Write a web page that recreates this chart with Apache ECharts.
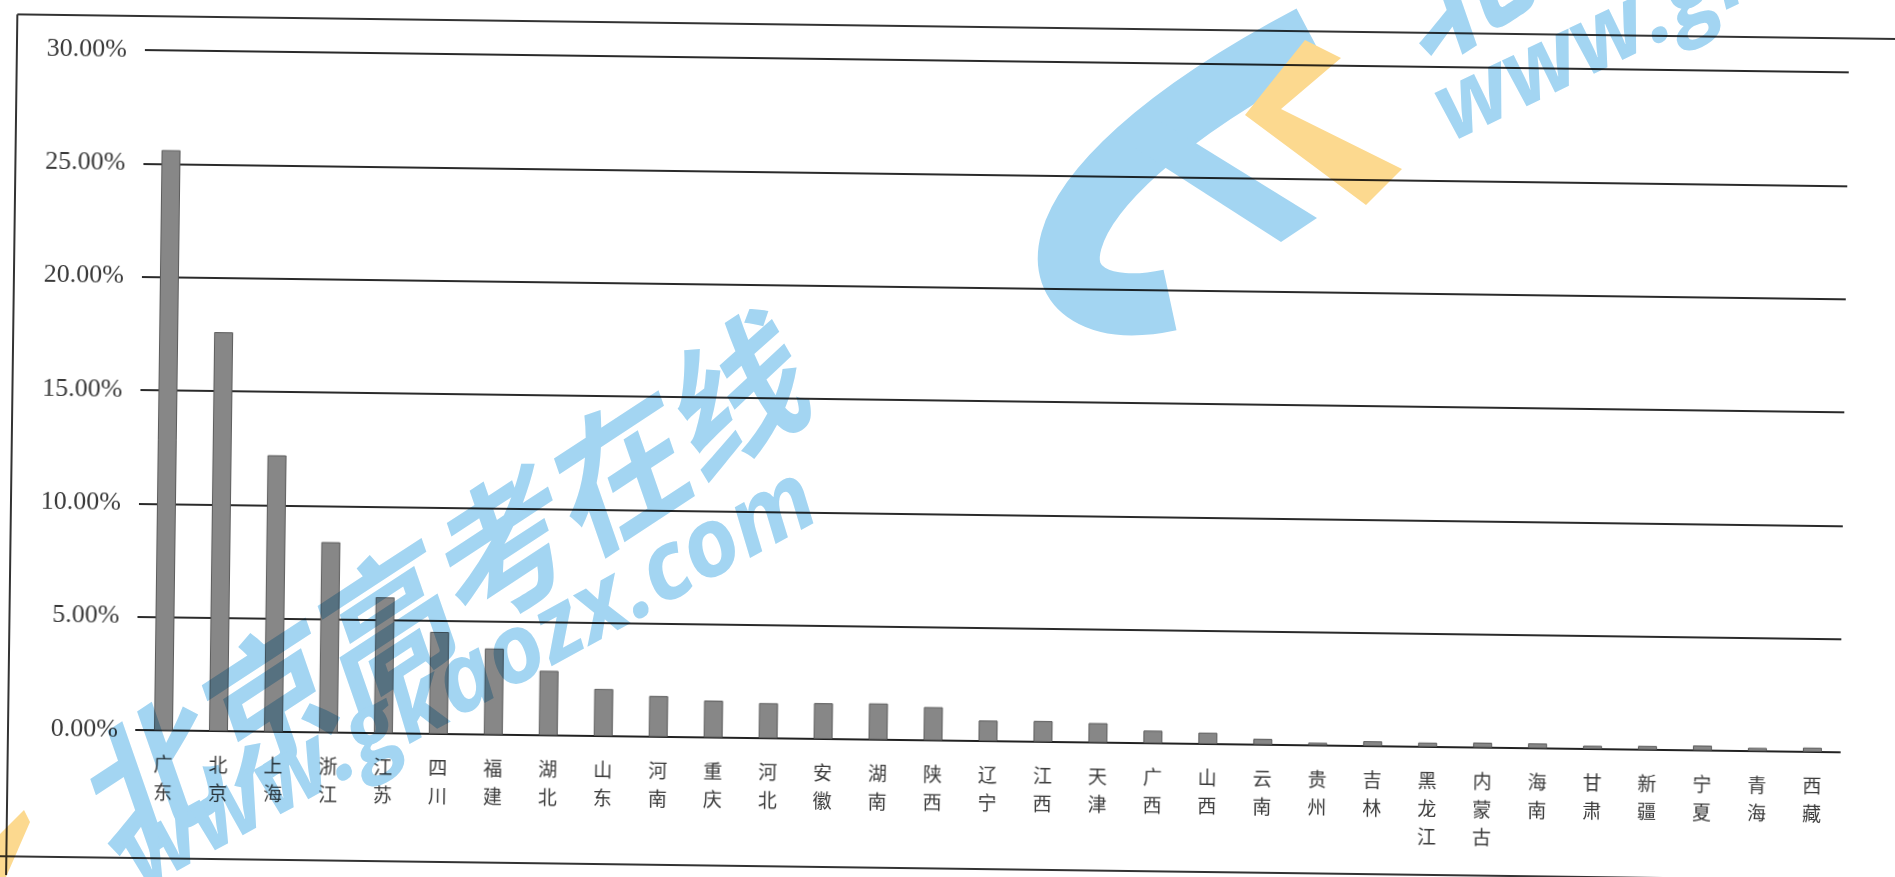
<!DOCTYPE html>
<html><head><meta charset="utf-8">
<script src="https://cdn.jsdelivr.net/npm/echarts@6/dist/echarts.min.js"></script>
<style>
html,body{margin:0;padding:0;background:#fff;overflow:hidden}
#c{position:absolute;left:0;top:0;width:1895px;height:877px;transform:rotate(0.75deg);transform-origin:136px 730px;background:#fff}
#w{position:absolute;left:0;top:0;width:1895px;height:877px;mix-blend-mode:multiply;pointer-events:none}
</style></head><body><div id="c"></div><div id="w"></div>
<script>
const categories = ['广东','北京','上海','浙江','江苏','四川','福建','湖北','山东','河南','重庆','河北','安徽','湖南','陕西','辽宁','江西','天津','广西','山西','云南','贵州','吉林','黑龙江','内蒙古','海南','甘肃','新疆','宁夏','青海','西藏'];
const values = [25.6,17.6,12.2,8.4,6.0,4.5,3.8,2.85,2.08,1.8,1.63,1.55,1.58,1.6,1.47,0.91,0.92,0.86,0.56,0.5,0.26,0.12,0.22,0.19,0.22,0.22,0.15,0.17,0.22,0.15,0.19];
const yMin = 0, yMax = 30, yStep = 5;

const chart = echarts.init(document.getElementById('c'), null, {renderer:'canvas'});
chart.setOption({
  animation:false,
  backgroundColor:'#fff',
  grid:{left:136, right:55, top:50, bottom:147, containLabel:false},
  xAxis:{
    type:'category', data:categories,
    axisLine:{lineStyle:{color:'#222', width:2}},
    axisTick:{show:false},
    axisLabel:{interval:0, margin:20, fontSize:19, lineHeight:28, color:'#3a3a3a',
      fontFamily:'Noto Sans CJK SC', verticalAlign:'top',
      formatter:v=>v.split('').join('\n')}
  },
  yAxis:{
    type:'value', min:yMin, max:yMax, interval:yStep,
    axisLine:{show:false}, axisTick:{show:false},
    splitLine:{lineStyle:{color:'#2a2a2a', width:2}},
    axisLabel:{margin:18, fontSize:26, fontFamily:'Liberation Serif', color:'#3a3a3a',
      formatter:v=>v.toFixed(2)+'%'}
  },
  series:[{type:'bar', data:values, barWidth:19, z:2,
    itemStyle:{color:'#878787', borderColor:'#5a5a5a', borderWidth:1}}],
  graphic:[
    {type:'line', shape:{x1:8,y1:16,x2:1895,y2:16}, style:{stroke:'#333',lineWidth:2}},
    {type:'line', shape:{x1:8,y1:16,x2:8,y2:877}, style:{stroke:'#333',lineWidth:2}},
    {type:'line', shape:{x1:0,y1:858,x2:1895,y2:858}, style:{stroke:'#333',lineWidth:2}}
  ]
});

const wm = '#a3d5f2';
const wmChart = echarts.init(document.getElementById('w'), null, {renderer:'canvas'});
wmChart.setOption({
  animation:false,
  graphic:[
    {type:'text', x:435, y:592, rotation:0.58,
      style:{text:'北京高考在线', fill:wm, fontSize:140, fontWeight:'bold', fontStyle:'italic',
        fontFamily:'Noto Sans CJK SC', align:'center', verticalAlign:'middle'}},
    {type:'text', x:470, y:680, rotation:0.5,
      style:{text:'www.gkaozx.com', fill:wm, fontSize:95, fontWeight:'bold', fontStyle:'italic',
        fontFamily:'Open Sans', align:'center', verticalAlign:'middle'}},
    {type:'text', x:1440, y:118, rotation:0.45,
      style:{text:'www.gkaozx.com', fill:wm, fontSize:95, fontWeight:'bold', fontStyle:'italic',
        fontFamily:'Open Sans', align:'left', verticalAlign:'middle'}},
    {type:'text', x:1395, y:22, rotation:0.58,
      style:{text:'北京高考在线', fill:wm, fontSize:140, fontWeight:'bold', fontStyle:'italic',
        fontFamily:'Noto Sans CJK SC', align:'left', verticalAlign:'middle'}},
    {type:'bezierCurve',
      shape:{x1:1311,y1:36,cpx1:1000,cpy1:200,cpx2:1030,cpy2:330,x2:1170,y2:300},
      style:{stroke:wm, lineWidth:62, fill:null}},
    {type:'polygon',
      shape:{points:[[1130,145],[1160,121],[1317,218],[1281,242]]},
      style:{fill:wm}},
    {type:'polygon',
      shape:{points:[[1305,40],[1341,58],[1281,109],[1402,169],[1366,205],[1245,115]]},
      style:{fill:'#fcd98f'}},
    {type:'polygon',
      shape:{points:[[0,834],[24,810],[30,822],[6,877],[0,877]]},
      style:{fill:'#fcd98f'}}
  ]
});
</script></body></html>
